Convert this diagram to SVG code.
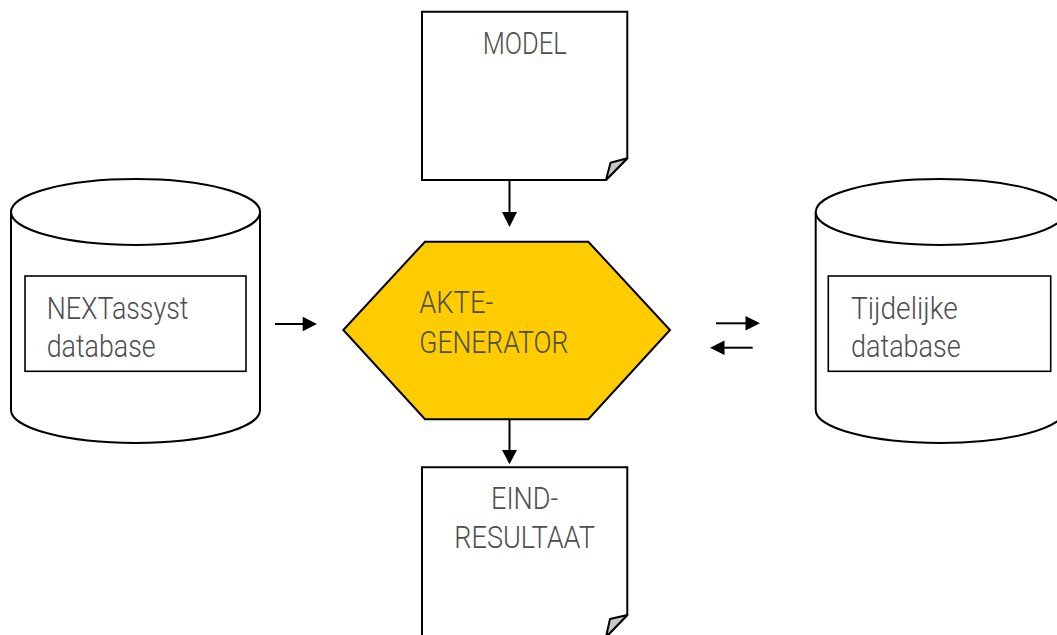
<svg xmlns="http://www.w3.org/2000/svg" width="1057" height="635" viewBox="0 0 1057 635">
  <style>
    .shape { fill: #ffffff; stroke: #000000; stroke-width: 2; }
    .hex { fill: #ffcc00; stroke: #000000; stroke-width: 2; }
    .fold { fill: #c8c8c8; stroke: #000000; stroke-width: 2; stroke-linejoin: round; }
    .inner { fill: none; stroke: #000000; stroke-width: 1.6; }
    .label { font-family: Roboto, "Liberation Sans", sans-serif; font-weight: 300; font-size: 30.5px; fill: #4d4d4d; }
    .conn { stroke: #000000; stroke-width: 2; fill: none; }
    .head { fill: #000000; }
  </style>

  <!-- model document -->
  <g id="model">
    <path class="shape" d="M422,11.7 H627.3 V158.3 L606,180 H422 Z"/>
    <path class="fold" d="M606,180 L610.5,162.7 L627.3,158.3 Z"/>
    <text class="label" x="482.7" y="54" textLength="84" lengthAdjust="spacingAndGlyphs">MODEL</text>
  </g>

  <!-- source database -->
  <g id="nextassyst-db">
    <path class="shape" d="M11,212 A124.5,33 0 0 1 260,212 V410 A124.5,33 0 0 1 11,410 Z"/>
    <path class="shape" d="M11,212 A124.5,33 0 0 0 260,212"/>
    <rect class="inner" x="25" y="276" width="221" height="95.3"/>
    <text class="label" x="46.7" y="319" textLength="141.7" lengthAdjust="spacingAndGlyphs">NEXTassyst</text>
    <text class="label" x="46.7" y="356.7" textLength="109" lengthAdjust="spacingAndGlyphs">database</text>
  </g>

  <!-- generator -->
  <g id="aktegenerator">
    <polygon class="hex" points="425,241.7 588.3,241.7 670,330 588.3,419.3 425,419.3 343.3,330"/>
    <text class="label" x="419.3" y="313.3" textLength="74" lengthAdjust="spacingAndGlyphs">AKTE-</text>
    <text class="label" x="419.3" y="353.3" textLength="149" lengthAdjust="spacingAndGlyphs">GENERATOR</text>
  </g>

  <!-- temporary database -->
  <g id="tijdelijke-db">
    <path class="shape" d="M815.7,212 A124.5,33 0 0 1 1064.7,212 V410 A124.5,33 0 0 1 815.7,410 Z"/>
    <path class="shape" d="M815.7,212 A124.5,33 0 0 0 1064.7,212"/>
    <rect class="inner" x="828.3" y="276" width="222.4" height="95.3"/>
    <text class="label" x="851" y="319.3" textLength="106.7" lengthAdjust="spacingAndGlyphs">Tijdelijke</text>
    <text class="label" x="851" y="356.7" textLength="109.7" lengthAdjust="spacingAndGlyphs">database</text>
  </g>

  <!-- result document -->
  <g id="eindresultaat">
    <path class="shape" d="M422,467.3 H627.3 V615 L606,637 H422 Z"/>
    <path class="fold" d="M606,637 L610,619 L627.3,615 Z"/>
    <text class="label" x="491" y="509.3" textLength="67.3" lengthAdjust="spacingAndGlyphs">EIND-</text>
    <text class="label" x="454.3" y="547.7" textLength="140.7" lengthAdjust="spacingAndGlyphs">RESULTAAT</text>
  </g>

  <!-- connectors -->
  <g id="connectors">
    <line class="conn" x1="509.5" y1="180" x2="509.5" y2="214"/>
    <polygon class="head" points="502,212 517,212 509.5,227"/>

    <line class="conn" x1="275" y1="324" x2="304" y2="324"/>
    <polygon class="head" points="302.7,316.7 302.7,331.3 317,324"/>

    <line class="conn" x1="716" y1="323.3" x2="747" y2="323.3"/>
    <polygon class="head" points="745.5,316 745.5,330.6 760,323.3"/>

    <line class="conn" x1="752.7" y1="347.7" x2="723" y2="347.7"/>
    <polygon class="head" points="724.5,340.4 724.5,355 710,347.7"/>

    <line class="conn" x1="509.5" y1="419.3" x2="509.5" y2="452"/>
    <polygon class="head" points="502,450 517,450 509.5,464.3"/>
  </g>
</svg>
